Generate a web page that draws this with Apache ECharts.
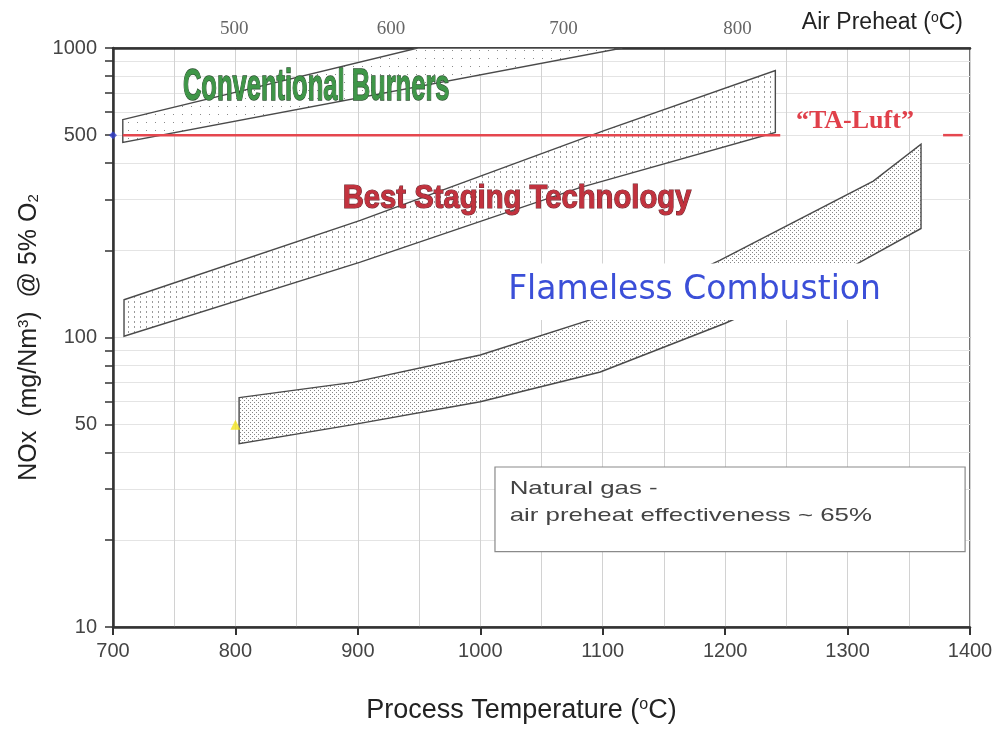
<!DOCTYPE html>
<html><head><meta charset="utf-8">
<script src="https://cdn.jsdelivr.net/npm/echarts@6/dist/echarts.min.js"></script>
<style>html,body{margin:0;padding:0;background:#fff}#c{width:998px;height:729px}</style>
</head><body><div id="c"></div>
<script>
// ---------- data ----------
const xMin = 700, xMax = 1400;
const yLabelValues = [10, 50, 100, 500, 1000];
const yTickValues = [10,20,30,40,50,60,70,80,90,100,200,300,400,500,600,700,800,900,1000];
const preheatLabels = [500, 600, 700, 800];
const preheatAtProcess = [799, 927, 1068, 1210];

const convUpperT = [708, 949],  convUpperV = [566, 1000];
const convLowerT = [708, 1116], convLowerV = [472, 1000];

const bestUpperT = [709, 902, 1100, 1241], bestUpperV = [135, 254, 516, 836];
const bestLowerT = [709, 902, 1082, 1241], bestLowerV = [101, 182, 330, 511];

const flUpperT = [803, 896, 1000, 1098, 1196, 1321, 1360];
const flUpperV = [62, 70, 87, 118, 185, 347, 465];
const flLowerT = [803, 896, 1000, 1098, 1200, 1304, 1360];
const flLowerV = [43, 50, 60, 76, 112, 176, 238];

const taLuftT = [708, 1245], taLuftV = [500, 500];
const taLegendT = [1378, 1394], taLegendV = [500, 500];
const blueMarker = [700, 500];
const yellowMarker = [800, 50];

const labelTexts = ['Conventional Burners', 'Best Staging Technology', 'Flameless Combustion', '\u201CTA-Luft\u201D'];
const labelT = [866, 1030, 1175, 1306];
const labelV = [729, 301, 145, 557];
const flBoxT = [1012, 1335], flBoxV = [180, 115];

const noteLines = ['Natural gas -', 'air preheat effectiveness ~ 65%'];
const noteBoxT = [1012, 1396], noteBoxV = [35.7, 18.2];
const noteTextT = 1024, noteTextV = [30, 24.3];

// ---------- patterns ----------
function makePattern(w, h, dots, color) {
  const c = document.createElement('canvas'); c.width = w; c.height = h;
  const g = c.getContext('2d'); g.fillStyle = '#fff'; g.fillRect(0, 0, w, h);
  g.fillStyle = color; dots.forEach(d => g.fillRect(d[0], d[1], d[2] || 1, d[3] || 1));
  return { image: c, repeat: 'repeat' };
}
const patConv = makePattern(9, 8, [[2, 2]], '#8a8a8a');
const patBest = makePattern(6, 5, [[2, 1, 1, 2]], '#9a9a9a');
const patFl = makePattern(4, 4, [[0, 0], [2, 2]], '#868686');

function band(name, upT, upV, loT, loV, pat) {
  return {
    type: 'custom', name, silent: true, z: 2, clip: true,
    data: [[upT[0], upV[0]]],
    renderItem(params, api) {
      const pts = [];
      for (let i = 0; i < upT.length; i++) pts.push(api.coord([upT[i], upV[i]]));
      for (let i = loT.length - 1; i >= 0; i--) pts.push(api.coord([loT[i], loV[i]]));
      return { type: 'polygon', shape: { points: pts }, style: { fill: pat, stroke: '#4a4a4a', lineWidth: 1.4 } };
    }
  };
}

const chart = echarts.init(document.getElementById('c'), null, { renderer: 'canvas' });
const sans = '"Liberation Sans", Arial, sans-serif';

const option = {
  animation: false,
  backgroundColor: '#fff',
  title: {
    text: 'Air Preheat ({s|o}C)', right: 30, top: 6,
    textStyle: { fontSize: 23, fontWeight: 'normal', color: '#222', fontFamily: sans,
      rich: { s: { fontSize: 14, verticalAlign: 'top', color: '#222', fontFamily: sans } } }
  },
  grid: { left: 113, right: 28, top: 48, bottom: 98, show: true, borderColor: '#444', borderWidth: 1.5, backgroundColor: 'transparent' },
  xAxis: [{
    type: 'value', min: xMin, max: xMax, interval: 100, position: 'bottom',
    axisLine: { show: true, onZero: false, lineStyle: { color: '#333', width: 2.5 } },
    axisTick: { show: true, length: 8, lineStyle: { color: '#333', width: 2 } },
    axisLabel: { fontSize: 20, color: '#444', margin: 14, fontFamily: sans, formatter: v => String(v) },
    splitLine: { show: true, lineStyle: { color: '#d2d2d2', width: 1 } },
    minorTick: { show: false, splitNumber: 2 },
    minorSplitLine: { show: true, lineStyle: { color: '#d2d2d2', width: 1 } },
    name: 'Process Temperature ({s|o}C)', nameLocation: 'middle', nameGap: 70,
    nameTextStyle: { fontSize: 27, color: '#222', fontFamily: sans, padding: [0, 40, 0, 0],
      rich: { s: { fontSize: 16, verticalAlign: 'top', color: '#222', fontFamily: sans } } }
  }, {
    type: 'value', min: xMin, max: xMax, position: 'top',
    axisLine: { show: true, lineStyle: { color: '#333', width: 2.5 } },
    axisTick: { show: false },
    splitLine: { show: false },
    axisLabel: { customValues: preheatAtProcess, fontSize: 19, color: '#666', margin: 9,
      fontFamily: '"Liberation Serif", "Times New Roman", serif',
      formatter: v => { const i = preheatAtProcess.indexOf(v); return i >= 0 ? String(preheatLabels[i]) : ''; } }
  }],
  yAxis: [{
    type: 'log', logBase: 10, min: 10, max: 1000,
    axisLine: { show: true, onZero: false, lineStyle: { color: '#333', width: 2.5 } },
    axisTick: { show: true, length: 8, customValues: yTickValues, lineStyle: { color: '#333', width: 1.5 } },
    axisLabel: { customValues: yLabelValues, fontSize: 20, color: '#444', margin: 16, fontFamily: sans, formatter: v => String(Math.round(v)) },
    splitLine: { show: true, lineStyle: { color: '#e4e4e4', width: 1 } },
    name: 'NOx  (mg/Nm{sup|3})  @ 5% O{sub|2}', nameLocation: 'middle', nameGap: 66, nameRotate: 90,
    nameTextStyle: { fontSize: 25, color: '#222', fontFamily: sans,
      rich: { sup: { fontSize: 15, verticalAlign: 'top', color: '#222', fontFamily: sans },
              sub: { fontSize: 15, verticalAlign: 'bottom', color: '#222', fontFamily: sans } } }
  }],
  series: [
    band('Conventional Burners', convUpperT, convUpperV, convLowerT, convLowerV, patConv),
    band('Best Staging Technology', bestUpperT, bestUpperV, bestLowerT, bestLowerV, patBest),
    band('Flameless Combustion', flUpperT, flUpperV, flLowerT, flLowerV, patFl),
    {
      type: 'line', name: 'TA-Luft', z: 4, symbol: 'none', silent: true,
      data: taLuftT.map((t, i) => [t, taLuftV[i]]),
      lineStyle: { color: '#e5474f', width: 2.5 }
    },
    {
      type: 'line', name: 'TA-Luft legend', z: 4, symbol: 'none', silent: true, clip: false,
      data: taLegendT.map((t, i) => [t, taLegendV[i]]),
      lineStyle: { color: '#e5474f', width: 2.5 }
    },
    {
      type: 'scatter', z: 8, clip: false, silent: true, symbol: 'diamond', symbolSize: 8,
      itemStyle: { color: '#3340d0' }, data: [blueMarker]
    },
    {
      type: 'scatter', z: 8, clip: false, silent: true, symbol: 'triangle', symbolSize: 10,
      itemStyle: { color: '#f2e41c' }, data: [yellowMarker]
    },
    {
      type: 'custom', z: 6, silent: true, clip: false,
      data: [[labelT[0], labelV[0]]],
      renderItem(params, api) {
        const children = [];
        const a = api.coord([flBoxT[0], flBoxV[0]]), b = api.coord([flBoxT[1], flBoxV[1]]);
        children.push({ type: 'rect', shape: { x: a[0], y: a[1], width: b[0] - a[0], height: b[1] - a[1] },
          style: { fill: '#fff' } });
        const p0 = api.coord([labelT[0], labelV[0]]);
        children.push({ type: 'text', x: p0[0], y: p0[1], scaleX: 0.58, style: {
          text: labelTexts[0], fontSize: 44, fontWeight: 'bold', fontFamily: sans,
          fill: '#3f9648', stroke: '#2c4f30', lineWidth: 1.4, align: 'center', verticalAlign: 'middle' } });
        const p1 = api.coord([labelT[1], labelV[1]]);
        children.push({ type: 'text', x: p1[0], y: p1[1], scaleX: 0.86, style: {
          text: labelTexts[1], fontSize: 34, fontWeight: 'bold', fontFamily: sans,
          fill: '#c2323e', stroke: '#6d2a31', lineWidth: 1.2, align: 'center', verticalAlign: 'middle' } });
        const p2 = api.coord([labelT[2], labelV[2]]);
        children.push({ type: 'text', x: p2[0], y: p2[1], style: {
          text: labelTexts[2], fontSize: 33, fontFamily: '"DejaVu Sans", sans-serif',
          fill: '#3b4fd8', align: 'center', verticalAlign: 'middle' } });
        const p3 = api.coord([labelT[3], labelV[3]]);
        children.push({ type: 'text', x: p3[0], y: p3[1], style: {
          text: labelTexts[3], fontSize: 26, fontWeight: 'bold', fontFamily: '"Liberation Serif", serif',
          fill: '#e0404a', align: 'center', verticalAlign: 'middle' } });
        const n0 = api.coord([noteBoxT[0], noteBoxV[0]]), n1 = api.coord([noteBoxT[1], noteBoxV[1]]);
        children.push({ type: 'rect', shape: { x: n0[0], y: n0[1], width: n1[0] - n0[0], height: n1[1] - n0[1] },
          style: { fill: '#fff', stroke: '#8a8a8a', lineWidth: 1.2 } });
        noteLines.forEach((s, i) => {
          const q = api.coord([noteTextT, noteTextV[i]]);
          children.push({ type: 'text', x: q[0], y: q[1], scaleX: 1.36, style: {
            text: s, fontSize: 19, fontFamily: sans, fill: '#444', align: 'left', verticalAlign: 'middle' } });
        });
        return { type: 'group', children };
      }
    }
  ]
};
chart.setOption(option);
</script></body></html>
